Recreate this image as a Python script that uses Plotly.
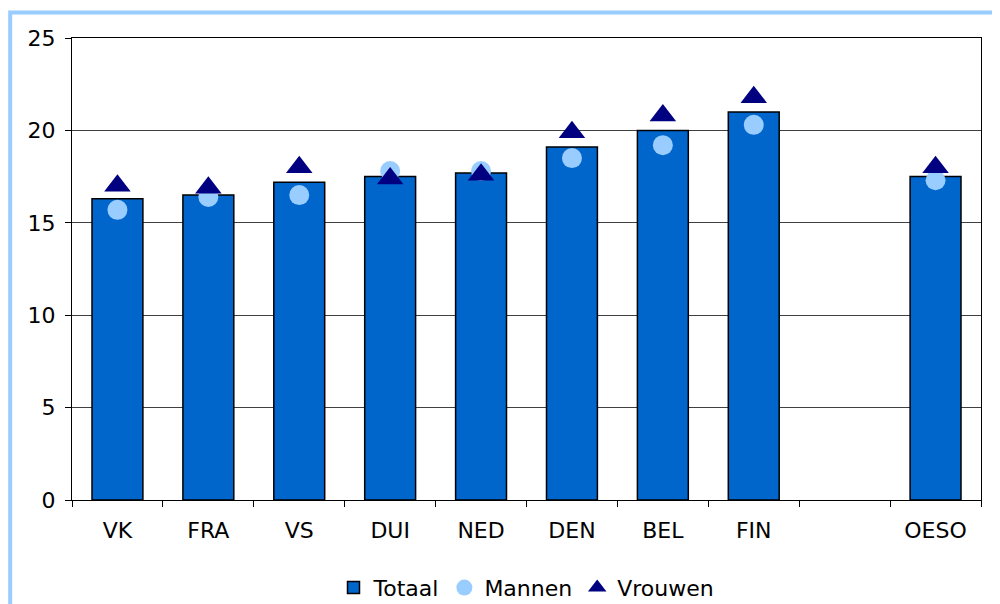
import plotly.graph_objects as go

# Categories (empty slot between FIN and OESO)
landen = ["VK", "FRA", "VS", "DUI", "NED", "DEN", "BEL", "FIN", " ", "OESO"]
totaal = [16.3, 16.5, 17.2, 17.5, 17.7, 19.1, 20.0, 21.0, None, 17.5]
mannen = [15.7, 16.4, 16.5, 17.8, 17.8, 18.5, 19.2, 20.3, None, 17.3]
vrouwen = [17.0, 16.9, 18.0, 17.4, 17.6, 19.9, 20.8, 21.8, None, 18.0]

font_name = "DejaVu Sans"

fig = go.Figure()

fig.add_trace(go.Bar(
    x=landen,
    y=totaal,
    name="Totaal",
    marker=dict(color="#0066CC", line=dict(color="black", width=1.5)),
))

fig.add_trace(go.Scatter(
    x=landen,
    y=mannen,
    mode="markers",
    name="Mannen",
    marker=dict(color="#99CCFF", size=20, symbol="circle"),
))

fig.add_trace(go.Scatter(
    x=landen,
    y=vrouwen,
    mode="markers",
    name="Vrouwen",
    marker=dict(color="#000080", size=23, symbol="triangle-up"),
))

# light blue frame around the chart (runs off the right and bottom edges)
fig.add_shape(
    type="rect", xref="paper", yref="paper",
    x0=-0.068, y0=-0.4, x1=1.1, y1=1.055,
    line=dict(color="#99CCFF", width=4),
    layer="below",
)

# page body has an 8px margin, so the figure is a bit smaller than the window
fig.update_layout(
    width=992,
    height=596,
    margin=dict(l=64, r=19, t=29.5, b=104, autoexpand=False),
    paper_bgcolor="white",
    plot_bgcolor="white",
    bargap=0.44,
    showlegend=True,
    font=dict(family=font_name, size=22, color="black"),
    legend=dict(
        orientation="h",
        x=0.5, xanchor="center",
        y=-0.19, yanchor="middle",
        font=dict(size=22),
        itemwidth=30,
        tracegroupgap=0,
    ),
    xaxis=dict(
        type="category",
        range=[-0.5, len(landen) - 0.5],
        showline=True,
        linecolor="black",
        linewidth=1,
        mirror=True,
        ticks="outside",
        tickson="boundaries",
        ticklen=6,
        tickcolor="black",
        showgrid=False,
        ticklabelstandoff=11,
        tickfont=dict(size=22),
    ),
    yaxis=dict(
        range=[0, 25],
        tickvals=[0, 5, 10, 15, 20, 25],
        showline=True,
        linecolor="black",
        linewidth=1,
        mirror=True,
        ticks="outside",
        ticklen=6,
        tickcolor="black",
        showgrid=True,
        gridcolor="#404040",
        gridwidth=1,
        zeroline=False,
        ticklabelstandoff=5,
        tickfont=dict(size=22),
    ),
)

fig.write_html("out.html")
